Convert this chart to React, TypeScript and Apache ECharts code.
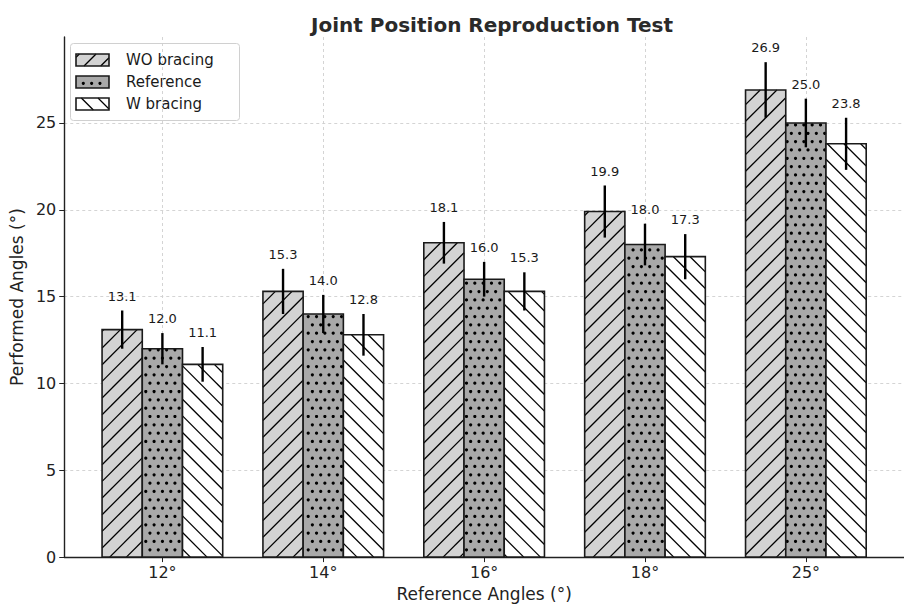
import React, { useEffect, useRef } from "react";
import * as echarts from "echarts";

const categories = ["12°", "14°", "16°", "18°", "25°"];
const woValues = [13.1, 15.3, 18.1, 19.9, 26.9];
const refValues = [12.0, 14.0, 16.0, 18.0, 25.0];
const wValues = [11.1, 12.8, 15.3, 17.3, 23.8];
const woErr = [1.1, 1.3, 1.2, 1.5, 1.6];
const refErr = [0.9, 1.1, 1.0, 1.2, 1.4];
const wErr = [1.0, 1.2, 1.1, 1.3, 1.5];
const yTicks = [0, 5, 10, 15, 20, 25];
const seriesNames = ["WO bracing", "Reference", "W bracing"];

const FONT = "DejaVu Sans";
const LINE_SP = 16.67;
const DOT_SP = 8.33;
const BAR_W = 0.25;

type Hatch = "/" | "\\" | ".";

function hatchElements(x0: number, y0: number, x1: number, y1: number, hatch: Hatch): any[] {
  const out: any[] = [];
  const lineStyle = { stroke: "#000", lineWidth: 1.3 };
  if (hatch === "/") {
    const s = LINE_SP;
    for (let k = Math.ceil((x0 + y0) / s); k <= Math.floor((x1 + y1) / s); k++) {
      const c = k * s;
      const xs = Math.max(x0, c - y1);
      const xe = Math.min(x1, c - y0);
      if (xe - xs > 0.3) {
        out.push({ type: "line", shape: { x1: xs, y1: c - xs, x2: xe, y2: c - xe }, style: lineStyle, silent: true });
      }
    }
  } else if (hatch === "\\") {
    const s = LINE_SP;
    for (let k = Math.ceil((x0 - y1) / s); k <= Math.floor((x1 - y0) / s); k++) {
      const c = k * s;
      const xs = Math.max(x0, c + y0);
      const xe = Math.min(x1, c + y1);
      if (xe - xs > 0.3) {
        out.push({ type: "line", shape: { x1: xs, y1: xs - c, x2: xe, y2: xe - c }, style: lineStyle, silent: true });
      }
    }
  } else {
    const s = DOT_SP;
    for (let j = Math.ceil(y0 / s); j <= Math.floor(y1 / s); j++) {
      const cy = j * s;
      const off = j % 2 === 0 ? 0 : s / 2;
      for (let i = Math.ceil((x0 - off) / s); i <= Math.floor((x1 - off) / s); i++) {
        const cx = i * s + off;
        if (cx - x0 > 1 && x1 - cx > 1 && cy - y0 > 1 && y1 - cy > 1) {
          out.push({ type: "circle", shape: { cx, cy, r: 1.6 }, style: { fill: "#000" }, silent: true });
        }
      }
    }
  }
  return out;
}

function makeSeries(name: string, values: number[], errs: number[], offset: number, fill: string, hatch: Hatch) {
  return {
    type: "custom",
    name,
    z: 5,
    data: values.map((v, i) => [i + offset, v, errs[i]]),
    encode: { x: 0, y: 1 },
    renderItem: (params: any, api: any) => {
      const x = api.value(0);
      const v = api.value(1);
      const e = api.value(2);
      const pTL = api.coord([x - BAR_W / 2, v]);
      const pBR = api.coord([x + BAR_W / 2, 0]);
      const x0 = pTL[0], y0 = pTL[1], x1 = pBR[0], y1 = pBR[1];
      const eTop = api.coord([x, v + e]);
      const eBot = api.coord([x, v - e]);
      const lbl = api.coord([x, v + e + 0.45]);
      return {
        type: "group",
        children: [
          { type: "rect", shape: { x: x0, y: y0, width: x1 - x0, height: y1 - y0 }, style: { fill } },
          ...hatchElements(x0, y0, x1, y1, hatch),
          { type: "rect", shape: { x: x0, y: y0, width: x1 - x0, height: y1 - y0 }, style: { fill: "none", stroke: "#1a1a1a", lineWidth: 1.6 } },
          { type: "line", shape: { x1: eTop[0], y1: eTop[1], x2: eBot[0], y2: eBot[1] }, style: { stroke: "#000", lineWidth: 2.4 } },
          {
            type: "text",
            style: { text: v.toFixed(1), x: lbl[0], y: lbl[1], align: "center", verticalAlign: "bottom", font: `13px '${FONT}'`, fill: "#1a1a1a" },
          },
        ],
      };
    },
  };
}

function legendGraphic() {
  const fills = ["#d3d3d3", "#a9a9a9", "#ffffff"];
  const hatches: Hatch[] = ["/", ".", "\\"];
  const rowY = [60, 82, 104];
  const children: any[] = [
    { type: "rect", shape: { x: 70.5, y: 43.5, width: 169, height: 77, r: 3 }, style: { fill: "rgba(255,255,255,0.85)", stroke: "#d0d0d0", lineWidth: 1 } },
  ];
  seriesNames.forEach((n, i) => {
    const x0 = 76, x1 = 109, y0 = rowY[i] - 6, y1 = rowY[i] + 6;
    children.push({ type: "rect", shape: { x: x0, y: y0, width: x1 - x0, height: y1 - y0 }, style: { fill: fills[i] } });
    children.push(...hatchElements(x0, y0, x1, y1, hatches[i]));
    children.push({ type: "rect", shape: { x: x0, y: y0, width: x1 - x0, height: y1 - y0 }, style: { fill: "none", stroke: "#1a1a1a", lineWidth: 1.6 } });
    children.push({ type: "text", style: { text: n, x: 126, y: rowY[i], verticalAlign: "middle", font: `15px '${FONT}'`, fill: "#1a1a1a" } });
  });
  return [{ type: "group", z: 20, children }];
}

export default function App() {
  const ref = useRef<HTMLDivElement>(null);
  useEffect(() => {
    if (!ref.current) return;
    const chart = echarts.init(ref.current, null, { renderer: "svg" });
    const tickText = { color: "#222", fontFamily: FONT, fontSize: 16 };
    const nameText = { color: "#222", fontFamily: FONT, fontSize: 17 };
    chart.setOption({
      animation: false,
      backgroundColor: "#ffffff",
      title: {
        text: "Joint Position Reproduction Test",
        left: 487,
        top: 10,
        textAlign: "center",
        textStyle: { fontFamily: FONT, fontWeight: "bold", fontSize: 20, color: "#2a2a2a" },
      },
      grid: { left: 62, right: -14, top: 37, bottom: 42 },
      xAxis: {
        type: "value",
        min: -0.61,
        max: 4.61,
        name: "Reference Angles (°)",
        nameLocation: "middle",
        nameGap: 25,
        nameTextStyle: { ...nameText },
        axisLine: { show: true, onZero: false, lineStyle: { color: "#222", width: 1.4 } },
        axisTick: { show: true, length: 5, customValues: [0, 1, 2, 3, 4], lineStyle: { color: "#222" } },
        axisLabel: {
          customValues: [0, 1, 2, 3, 4],
          formatter: (v: number) => categories[Math.round(v)] ?? "",
          margin: 7,
          ...tickText,
        },
        splitLine: { show: true, lineStyle: { color: "#cfcfcf", type: [3, 3], width: 0.9 } },
      },
      yAxis: {
        type: "value",
        min: 0,
        max: 29.95,
        name: "Performed Angles (°)",
        nameLocation: "middle",
        nameGap: 33,
        nameTextStyle: { ...nameText },
        axisLine: { show: true, onZero: false, lineStyle: { color: "#222", width: 1.4 } },
        axisTick: { show: true, length: 5, customValues: yTicks, lineStyle: { color: "#222" } },
        axisLabel: { customValues: yTicks, margin: 8, ...tickText },
        splitLine: { show: true, lineStyle: { color: "#cfcfcf", type: [3, 3], width: 0.9 } },
      },
      series: [
        makeSeries(seriesNames[0], woValues, woErr, -BAR_W, "#d3d3d3", "/"),
        makeSeries(seriesNames[1], refValues, refErr, 0, "#a9a9a9", "."),
        makeSeries(seriesNames[2], wValues, wErr, BAR_W, "#ffffff", "\\"),
      ],
      graphic: legendGraphic(),
    });
    return () => chart.dispose();
  }, []);
  return <div ref={ref} style={{ width: 904, height: 607, position: "absolute", left: 0, top: 0 }} />;
}
